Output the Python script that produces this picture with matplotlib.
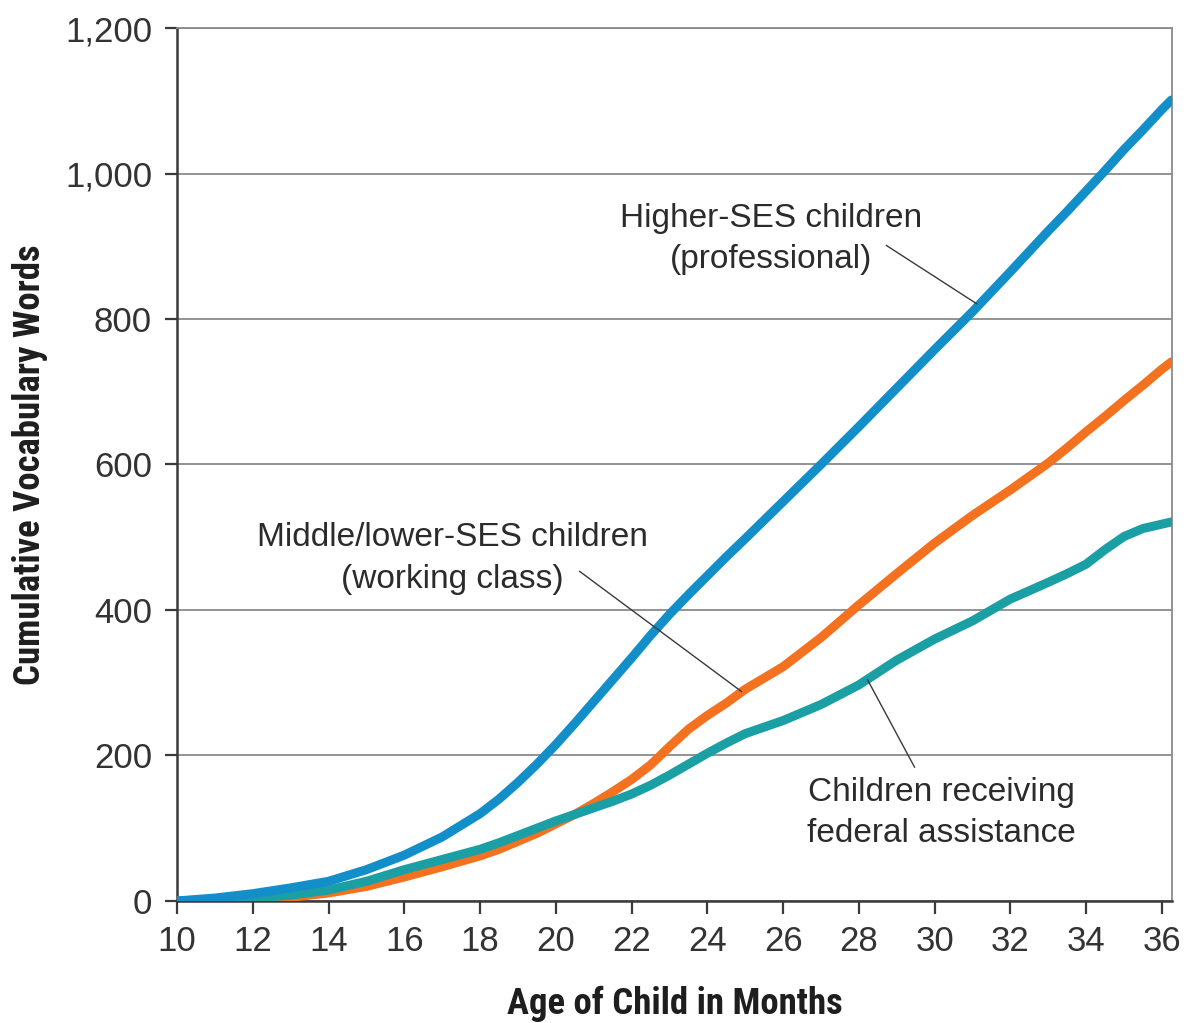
import matplotlib
matplotlib.use("Agg")
import matplotlib.pyplot as plt
from matplotlib import font_manager
from matplotlib.font_manager import FontProperties
from matplotlib.ticker import FuncFormatter

# Cumulative vocabulary by age (months); finer steps where the curves bend
months = [10, 11, 12, 13, 14, 15, 16, 17,
          18, 18.5, 19, 19.5, 20, 20.5, 21, 21.5, 22, 22.5, 23, 23.5, 24, 24.5, 25,
          26, 27, 28, 29, 30, 31, 32,
          33, 33.5, 34, 34.5, 35, 35.5, 36, 36.25]

higher_ses = [0, 4, 10, 18, 27, 43, 63, 88,
              120, 140, 163, 188, 215, 244, 274, 304, 334, 365, 394, 421, 447, 473, 498,
              549, 600, 652, 705, 758, 810, 865,
              921, 948, 976, 1004, 1033, 1060, 1088, 1101]

middle_lower_ses = [0, 0, 2, 5, 11, 20, 33, 47,
                    62, 71, 82, 93, 106, 119, 134, 150, 167, 187, 212, 236, 255, 272, 291,
                    322, 362, 407, 450, 492, 530, 565,
                    602, 623, 645, 666, 688, 709, 731, 741]

welfare = [0, 1, 4, 8, 15, 27, 43, 57,
           71, 80, 90, 100, 110, 119, 128, 137, 147, 159, 173, 188, 203, 217, 230,
           248, 270, 297, 331, 360, 385, 415,
           438, 450, 463, 483, 501, 512, 518, 521]

x_ticks = list(range(10, 37, 2))
y_ticks = [0, 200, 400, 600, 800, 1000, 1200]

labels = {
    "higher": "Higher-SES children\n(professional)",
    "middle": "Middle/lower-SES children\n(working class)",
    "welfare": "Children receiving\nfederal assistance",
}

BLUE = "#128ec9"
ORANGE = "#f3711f"
TEAL = "#1a9fa4"
TEXT = "#2b2b2b"
GRID = "#8a8a8a"


def condensed_bold():
    """Find a condensed/narrow bold face for the axis titles, if one is installed."""
    preferred = ["Roboto Condensed", "Liberation Sans Narrow", "Noto Sans",
                 "Open Sans", "Noto Sans Display", "DejaVu Sans"]
    hits = []
    for f in font_manager.fontManager.ttflist:
        name = f.name
        fname = f.fname.lower()
        narrow = ("condensed" in fname or "narrow" in fname or
                  "condensed" in name.lower() or "narrow" in name.lower() or
                  str(f.stretch) in ("condensed", "semi-condensed", "extra-condensed"))
        if "semi" in fname or "extra" in fname or "ultra" in fname:
            continue
        bold = (f.weight in ("bold", 700) or "bold" in fname)
        italic = f.style != "normal" or "italic" in fname or "oblique" in fname
        if narrow and bold and not italic:
            rank = next((i for i, p in enumerate(preferred) if name.startswith(p)),
                        len(preferred))
            hits.append((rank, f.fname))
    if hits:
        hits.sort()
        return FontProperties(fname=hits[0][1]), True
    return FontProperties(family=["Liberation Sans", "DejaVu Sans"], weight="bold"), False


fig = plt.figure(figsize=(11.92, 10.23), dpi=100)
ax = fig.add_axes([0.1485, 0.1193, 0.8345, 0.8533])

lw = 6.5
ax.plot(months, middle_lower_ses, color=ORANGE, lw=lw, solid_capstyle="round",
        solid_joinstyle="round", zorder=3)
ax.plot(months, welfare, color=TEAL, lw=lw, solid_capstyle="round",
        solid_joinstyle="round", zorder=4)
ax.plot(months, higher_ses, color=BLUE, lw=lw, solid_capstyle="round",
        solid_joinstyle="round", zorder=5)

ax.set_xlim(10, 36.26)
ax.set_ylim(0, 1200)
ax.set_xticks(x_ticks)
ax.set_yticks(y_ticks)
ax.yaxis.set_major_formatter(FuncFormatter(lambda v, p: f"{int(v):,}"))

ax.grid(axis="y", color=GRID, lw=1.3, zorder=1)
ax.set_axisbelow(True)

for side in ("left", "bottom"):
    ax.spines[side].set_color("#3a3a3a")
    ax.spines[side].set_linewidth(1.8)
for side in ("top", "right"):
    ax.spines[side].set_color(GRID)
    ax.spines[side].set_linewidth(1.3)

ax.tick_params(axis="both", direction="out", length=9, width=1.6, color="#3a3a3a")
ax.tick_params(axis="x", pad=8)
ax.tick_params(axis="y", pad=9)
for lab in ax.get_xticklabels() + ax.get_yticklabels():
    lab.set_fontfamily(["Liberation Sans", "DejaVu Sans"])
    lab.set_fontsize(25)
    lab.set_color("#333333")

title_fp, is_narrow = condensed_bold()
title_fp.set_size(26.5 if is_narrow else 22)
ax.set_xlabel("Age of Child in Months", labelpad=20, fontproperties=title_fp,
              color="#1e1e1e")
ax.set_ylabel("Cumulative Vocabulary Words", labelpad=12, fontproperties=title_fp,
              color="#1e1e1e")

ann_font = dict(family=["Liberation Sans", "DejaVu Sans"], size=24, color=TEXT,
                ha="center", va="center", linespacing=1.45)
ax.text(25.67, 910, labels["higher"], zorder=6, **ann_font)
ax.text(17.26, 471, labels["middle"], zorder=6, **ann_font)
ax.text(30.18, 121, labels["welfare"], zorder=6, **ann_font)

leader = dict(color="#3a3a3a", lw=1.0, zorder=6)
ax.plot([28.73, 31.11], [901, 821], **leader)
ax.plot([20.63, 24.9], [453, 288], **leader)
ax.plot([28.23, 29.47], [304, 184], **leader)

fig.savefig("out.png", dpi=100, facecolor="white")
